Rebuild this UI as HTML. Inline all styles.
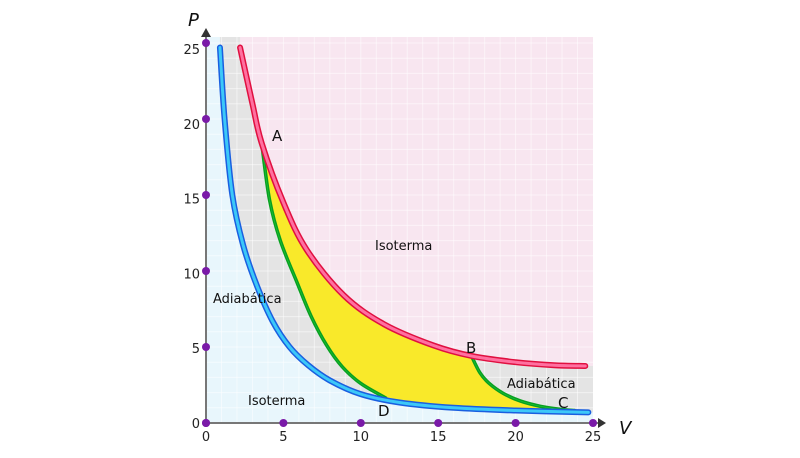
<!DOCTYPE html>
<html><head><meta charset="utf-8"><style>
html,body{margin:0;padding:0;background:#fff;}
svg{display:block;font-family:"DejaVu Sans","Liberation Sans",sans-serif;}
</style></head><body>
<svg id="chart" width="800" height="458" viewBox="0 0 800 458">
<defs><clipPath id="plotclip"><rect x="206" y="37" width="387" height="386"/></clipPath></defs>
<g id="bg" clip-path="url(#plotclip)"></g>
<g id="grid"></g>
<g id="marks"></g>
<g id="axes"></g>
</svg>
<script>
const xTicks=[0,5,10,15,20,25];
const yTicks=[0,5,10,15,20,25];
const redIso=[[2.2,24.7],[3.0,21.0],[3.6,18.4],[5.0,14.5],[6.5,11.4],[8.9,8.4],[11.5,6.5],[14.7,5.1],[17.2,4.4],[20,4.0],[22.5,3.8],[24.5,3.75]];
const blueIso=[[0.9,24.7],[1.2,20],[1.7,15],[2.4,11.7],[3.3,9.0],[4.3,6.7],[5.4,5.0],[6.6,3.8],[8,2.8],[10,1.9],[12.5,1.35],[16,1.0],[20,0.82],[24.7,0.7]];
const greenL=[[3.6,18.4],[4.1,14.7],[4.8,12.0],[5.9,9.2],[6.8,7.0],[7.8,5.1],[8.8,3.7],[10,2.6],[11.6,1.65]];
const greenR=[[17.2,4.3],[17.7,3.3],[18.3,2.6],[19.2,1.95],[20.3,1.45],[21.6,1.1],[22.9,0.9],[23.8,0.82]];
const ns="http://www.w3.org/2000/svg";
const X=v=>206+v*15.48, Y=p=>423-p*15.2;
function el(t,a,parent){const e=document.createElementNS(ns,t);for(const k in a)e.setAttribute(k,a[k]);parent.appendChild(e);return e;}
function pts(arr){return arr.map(d=>[X(d[0]),Y(d[1])]);}
function cr(p,move){let s=move?`M${p[0][0]},${p[0][1]}`:`L${p[0][0]},${p[0][1]}`;
 for(let i=0;i<p.length-1;i++){const p0=p[i-1]||p[i],p1=p[i],p2=p[i+1],p3=p[i+2]||p2;
 s+=` C${p1[0]+(p2[0]-p0[0])/6},${p1[1]+(p2[1]-p0[1])/6} ${p2[0]-(p3[0]-p1[0])/6},${p2[1]-(p3[1]-p1[1])/6} ${p2[0]},${p2[1]}`;}return s;}
const bg=document.getElementById('bg'),grid=document.getElementById('grid'),marks=document.getElementById('marks'),axes=document.getElementById('axes');
let r=el('rect',{x:206,y:37,width:387,height:386,fill:'#e4e4e4'},bg);

const rp=pts(redIso);
let pink=el('path',{d:cr(rp,true)+` L593,${rp[rp.length-1][1]} L593,37 L${rp[0][0]},37 Z`,fill:'#f8e6f0'},bg);

const bp=pts(blueIso);
let lb=el('path',{d:cr(bp,true)+` L593,${bp[bp.length-1][1]} L593,423 L206,423 L206,37 L${bp[0][0]},37 Z`,fill:'#e8f6fc'},bg);

for(let v=1;v<25;v++){let g=el('line',{x1:X(v),x2:X(v),y1:37,y2:423,stroke:'#fff','stroke-opacity':0.5,'stroke-width':1},grid);
 }
for(let p=1;p<26;p++){let g=el('line',{x1:206,x2:593,y1:Y(p),y2:Y(p),stroke:'#fff','stroke-opacity':0.5,'stroke-width':1},grid);
 }
const redAB=redIso.filter(d=>d[0]>=3.6&&d[0]<=17.2);
const blueCD=blueIso.filter(d=>d[0]>12&&d[0]<23.8);
const cyc=cr(pts(redAB),true)+cr(pts(greenR),false)+' '+cr(pts([[23.8,0.82]].concat(blueCD.slice().reverse().map(d=>[d[0],d[1]+0.1])).concat([[11.6,1.65]])),false)+cr(pts(greenL.slice().reverse()),false)+'Z';
let y=el('path',{d:cyc,fill:'#f9e92a'},marks);

function curve(arr,outer,inner,w,name){
 let a=el('path',{d:cr(pts(arr),true),fill:'none',stroke:outer,'stroke-width':w,'stroke-linecap':'round'},marks);
 
 if(inner){let b=el('path',{d:cr(pts(arr),true),fill:'none',stroke:inner,'stroke-width':w-3,'stroke-linecap':'round'},marks);
 }}
curve(greenL,'#08a020','#22d040',3.5,'adiabatic-left');
curve(greenR,'#08a020','#22d040',3.5,'adiabatic-right');
curve(blueIso,'#1a5fe0','#3cc8f8',6,'isotherm-cold');
curve(redIso,'#e01040','#ff70a0',6,'isotherm-hot');
let ax=el('line',{x1:206,y1:423,x2:598,y2:423,stroke:'#777','stroke-width':2},axes);
let ay=el('line',{x1:206,y1:423,x2:206,y2:32,stroke:'#777','stroke-width':2},axes);
let ah=el('path',{d:'M598,418 L606,423 L598,428 Z',fill:'#333'},axes);
let ah2=el('path',{d:'M201,37 L206,28 L211,37 Z',fill:'#333'},axes);
xTicks.forEach(v=>{let c=el('circle',{cx:X(v),cy:423,r:4,fill:'#7a1aa8'},axes);
 let t=el('text',{x:X(v),y:441,'font-size':13,'text-anchor':'middle',fill:'#222'},axes);t.textContent=v;});
yTicks.forEach(p=>{let c=el('circle',{cx:206,cy:Y(p),r:4,fill:'#7a1aa8'},axes);
 let t=el('text',{x:200,y:Y(p)+5+(p/25)*6,'font-size':13,'text-anchor':'end',fill:'#222'},axes);t.textContent=p;});
function label(x,yy,s,size,name,style){let t=el('text',{x:x,y:yy,'font-size':size,fill:'#111'},axes);if(style)t.setAttribute('font-style',style);t.textContent=s;}
label(188,26,'P',18,'y-axis-title','italic');
label(619,434,'V',18,'x-axis-title','italic');
label(272,141,'A',15,'point-a-label');
label(466,353,'B',15,'point-b-label');
label(558,408,'C',15,'point-c-label');
label(378,416,'D',15,'point-d-label');
label(375,250,'Isoterma',13,'isotherm-hot-label');
label(248,405,'Isoterma',13,'isotherm-cold-label');
label(213,303,'Adiabática',13,'adiabatic-left-label');
label(507,388,'Adiabática',13,'adiabatic-right-label');
</script>
</body></html>
